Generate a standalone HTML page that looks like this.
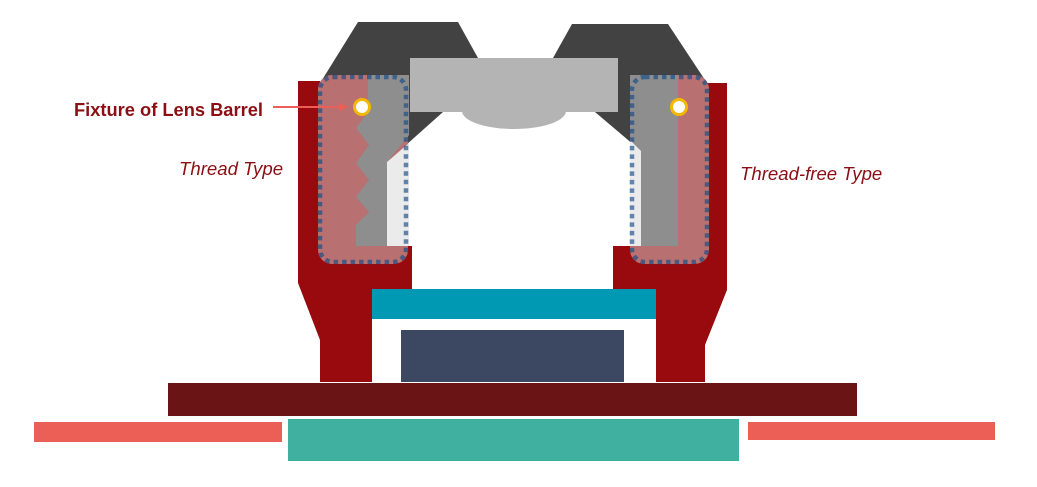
<!DOCTYPE html>
<html><head><meta charset="utf-8"><style>
html,body{margin:0;padding:0;background:#fff;}
svg{display:block;}
text{font-family:"Liberation Sans",sans-serif;}
</style></head><body>
<svg width="1037" height="487" viewBox="0 0 1037 487" xmlns="http://www.w3.org/2000/svg">
<polygon points="358,22 458,22 478,58 410,58 410,112 443,112 387,162 330,162 322,80" fill="#424242"/>
<polygon points="572,24 668,24 705,80 700,162 641,151 595,112 618,112 618,58 553,58" fill="#424242"/>
<rect x="298" y="81" width="22" height="170" fill="#990a0e"/>
<polygon points="298,246 412,246 412,290 372,290 372,382 320,382 320,340 298,283" fill="#990a0e"/>
<rect x="706" y="83" width="21" height="170" fill="#990a0e"/>
<polygon points="613,246 727,246 727,290 705,345 705,382 656,382 656,290 613,290" fill="#990a0e"/>
<rect x="318" y="75" width="90" height="189" rx="14" fill="#b87070"/>
<rect x="630" y="75" width="79" height="189" rx="14" fill="#b87070"/>
<polygon points="368,75 409,75 409,135 387,162 387,246 356,246 356,225 369,212 356,197 369,180 356,163 369,145 356,128 368,112" fill="#8e8e8e"/>
<polygon points="387,162 409,143 409,246 387,246" fill="#ebebeb"/>
<polygon points="630,75 678,75 678,246 641,246 641,151 630,140" fill="#8e8e8e"/>
<polygon points="630,140 641,151 641,246 630,246" fill="#ebebeb"/>
<rect x="410" y="58" width="208" height="54" fill="#b4b4b4"/>
<path d="M462,111 A52,18 0 0 0 566,111 Z" fill="#b4b4b4"/>
<rect x="320" y="77" width="86" height="185" rx="13" fill="none" stroke="rgba(20,75,135,0.65)" stroke-width="4.5" stroke-dasharray="4.5,4"/>
<rect x="632" y="77" width="75" height="185" rx="13" fill="none" stroke="rgba(20,75,135,0.65)" stroke-width="4.5" stroke-dasharray="4.5,4"/>
<circle cx="362" cy="107" r="7.5" fill="#fff" stroke="#f5b800" stroke-width="3"/>
<circle cx="679" cy="107" r="7.5" fill="#fff" stroke="#f5b800" stroke-width="3"/>
<rect x="372" y="289" width="284" height="30" fill="#0099b4"/>
<rect x="401" y="330" width="223" height="52" fill="#3c4862"/>
<rect x="168" y="383" width="689" height="33" fill="#6b1416"/>
<rect x="34" y="422" width="248" height="20" fill="#eb5f57"/>
<rect x="748" y="422" width="247" height="18" fill="#eb5f57"/>
<rect x="288" y="419" width="451" height="42" fill="#40b0a0"/>
<text x="74" y="116" font-size="18.3" font-weight="bold" fill="#8b0f14">Fixture of Lens Barrel</text>
<line x1="273" y1="107" x2="340" y2="107" stroke="#eb5f57" stroke-width="2"/>
<polygon points="348,107 339,102.5 339,111.5" fill="#eb5f57"/>
<text x="179" y="175" font-size="18.6" font-style="italic" fill="#8b0f14">Thread Type</text>
<text x="740" y="180" font-size="18.6" font-style="italic" fill="#8b0f14">Thread-free Type</text>
</svg>
</body></html>
